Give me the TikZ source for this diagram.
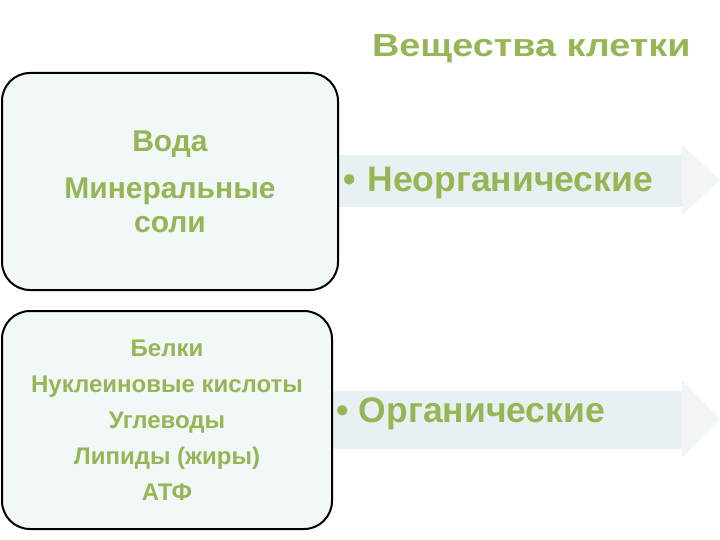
\documentclass[tikz,border=0pt]{standalone}
\usepackage{fontspec}
\setmainfont{Liberation Sans}
\newfontfamily\widefont[FakeStretch=1.18]{Liberation Sans}
\definecolor{leaf}{RGB}{150,182,86}
\definecolor{boxfill}{RGB}{242,247,247}
\definecolor{band}{RGB}{232,240,243}
\definecolor{bandtip}{RGB}{241,245,247}
\begin{document}
\begin{tikzpicture}[x=1pt,y=-1pt,
  box/.style={draw=black, line width=2pt, fill=boxfill, rounded corners=28pt,
    align=center, text=leaf, inner sep=0pt},
  label/.style={anchor=base west, text=leaf, font=\fontsize{35.5}{40}\selectfont\bfseries}]
\useasboundingbox (0,0) rectangle (720,540);
%arrows
\fill[band] (300,155) rectangle (682,207);
\fill[bandtip] (682,145) -- (720,180) -- (682,215) -- cycle;
\fill[band] (300,391) rectangle (682,449);
\fill[bandtip] (682,380) -- (720,419) -- (682,458) -- cycle;
%title
\node (title) [anchor=base west, text=leaf, inner sep=0pt,
  font=\fontsize{32}{38}\widefont\bfseries] at (372,57) {Вещества клетки};
%boxes
\node (inorgbox) [box, minimum width=336pt, minimum height=217pt,
  font=\fontsize{30}{34}\selectfont\bfseries] at (170,181.5)
  {Вода\\[13pt]Минеральные\\соли};
\node (orgbox) [box, minimum width=330pt, minimum height=218pt,
  font=\fontsize{24}{36}\selectfont\bfseries] at (167,420)
  {Белки\\Нуклеиновые кислоты\\Углеводы\\Липиды (жиры)\\АТФ};
%labels
\node (inorg) [label] at (339.5,191.5) {•\hspace{12pt}Неорганические};
\node (org) [label] at (332.5,422.5) {•\hspace{10.5pt}Органические};
\end{tikzpicture}
\end{document}
